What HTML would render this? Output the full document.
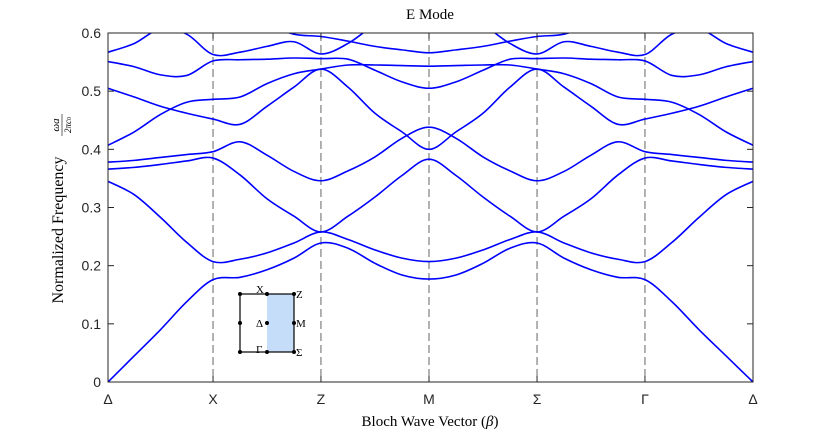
<!DOCTYPE html>
<html><head><meta charset="utf-8"><style>
html,body{margin:0;padding:0;background:#fff;}
svg{display:block;}
text{font-family:"Liberation Sans",sans-serif;}
.serif{font-family:"Liberation Serif",serif;}
</style></head><body>
<svg id="chart" width="832" height="433" viewBox="0 0 832 433">
<defs><clipPath id="plotclip"><rect x="108" y="33" width="645" height="349"/></clipPath></defs>
<rect x="0" y="0" width="832" height="433" fill="#fff"/>
<text class="serif" x="430" y="19" text-anchor="middle" font-size="15">E Mode</text>
<g id="grid"></g>
<g id="bands" clip-path="url(#plotclip)"></g>
<rect x="108" y="33" width="645" height="349" fill="none" stroke="#262626" stroke-width="1"/>
<g id="yaxis"></g>
<g id="xaxis"></g>
<text class="serif" x="430" y="426" text-anchor="middle" font-size="15">Bloch Wave Vector (<tspan font-style="italic">β</tspan>)</text>
<g transform="translate(63,208) rotate(-90)">
<text class="serif" x="-22" y="0" text-anchor="middle" font-size="16">Normalized Frequency</text>
<text class="serif" x="83" y="-4" text-anchor="middle" font-size="11" font-style="italic">ωa</text>
<line x1="72" x2="94" y1="-1" y2="-1" stroke="#000" stroke-width="0.6"/>
<text class="serif" x="83" y="8" text-anchor="middle" font-size="9" font-style="italic">2πc<tspan font-size="6" font-style="normal">0</tspan></text>
</g>
<g>
<rect x="267" y="294" width="27" height="58" fill="#c5ddf8"/>
<rect x="240" y="294" width="54" height="58" fill="none" stroke="#000" stroke-width="1.2"/>
<g fill="#000">
<circle cx="240" cy="294" r="2"/><circle cx="267" cy="294" r="2"/><circle cx="294" cy="294" r="2"/>
<circle cx="240" cy="323" r="2"/><circle cx="267" cy="323" r="2"/><circle cx="294" cy="323" r="2"/>
<circle cx="240" cy="352" r="2"/><circle cx="267" cy="352" r="2"/><circle cx="294" cy="352" r="2"/>
</g>
<g class="serif" font-size="11" fill="#000">
<text class="serif" x="256" y="293">X</text>
<text class="serif" x="296" y="298">Z</text>
<text class="serif" x="256" y="327">Δ</text>
<text class="serif" x="296" y="327">M</text>
<text class="serif" x="256" y="353">Γ</text>
<text class="serif" x="296" y="356">Σ</text>
</g>
</g>
</svg>
<script>
// half path Δ→X→Z→M sampled at quarter points of each segment (13 values), mirrored for M→Σ→Γ→Δ
const kLabels = ["Δ","X","Z","M","Σ","Γ","Δ"];
const kTicks = [0, 0.977, 1.981, 2.986, 3.991, 4.995, 6];
const yTicks = [0, 0.1, 0.2, 0.3, 0.4, 0.5, 0.6];
const band1 = [0, 0.045, 0.09, 0.138, 0.176, 0.180, 0.193, 0.213, 0.239, 0.230, 0.204, 0.184, 0.177];
const band2 = [0.345, 0.322, 0.283, 0.24, 0.207, 0.211, 0.222, 0.239, 0.258, 0.245, 0.227, 0.213, 0.207];
const band3 = [0.366, 0.369, 0.374, 0.380, 0.385, 0.356, 0.315, 0.285, 0.258, 0.285, 0.318, 0.355, 0.383];
const band4 = [0.378, 0.381, 0.386, 0.391, 0.396, 0.413, 0.39, 0.362, 0.346, 0.363, 0.387, 0.419, 0.438];
const band5 = [0.407, 0.43, 0.46, 0.481, 0.486, 0.49, 0.513, 0.53, 0.538, 0.545, 0.545, 0.544, 0.543];
const band6 = [0.505, 0.49, 0.474, 0.462, 0.452, 0.443, 0.474, 0.507, 0.538, 0.507, 0.462, 0.43, 0.40];
const band7 = [0.551, 0.542, 0.528, 0.527, 0.552, 0.554, 0.555, 0.557, 0.556, 0.555, 0.536, 0.516, 0.505];
const band8 = [0.567, 0.582, 0.607, 0.598, 0.563, 0.567, 0.577, 0.585, 0.564, 0.582, 0.615, 0.64, 0.65];
const band9 = [0.7, 0.7, 0.7, 0.7, 0.66, 0.64, 0.615, 0.598, 0.594, 0.586, 0.577, 0.571, 0.566];
const bands = [band1, band2, band3, band4, band5, band6, band7, band8, band9];

const NS = "http://www.w3.org/2000/svg";
const X0 = 108, X1 = 753, Y0 = 382, Y1 = 33;
function xs(k){ return X0 + (k - kTicks[0]) / (kTicks[kTicks.length-1] - kTicks[0]) * (X1 - X0); }
function ys(v){ return Y0 - (v - yTicks[0]) / (yTicks[yTicks.length-1] - yTicks[0]) * (Y0 - Y1); }
function kAt(i){ const seg = Math.floor(i/4), t = (i%4)/4; if (seg >= kTicks.length-1) return kTicks[kTicks.length-1]; return kTicks[seg] + t*(kTicks[seg+1]-kTicks[seg]); }

const grid = document.getElementById('grid');
for (let i = 1; i < kTicks.length-1; i++) {
  const l = document.createElementNS(NS,'line');
  
  
  l.setAttribute('x1', xs(kTicks[i])); l.setAttribute('x2', xs(kTicks[i]));
  l.setAttribute('y1', Y1); l.setAttribute('y2', Y0);
  l.setAttribute('stroke', '#555'); l.setAttribute('stroke-width', '0.9'); l.setAttribute('stroke-dasharray', '8,4');
  grid.appendChild(l);
}

const bg = document.getElementById('bands');
bands.forEach((half, bi) => {
  const full = half.concat(half.slice(0, -1).reverse());
  const pts = full.map((v, i) => [xs(kAt(i)), ys(v)]);
  let d = 'M' + pts[0][0].toFixed(2) + ',' + pts[0][1].toFixed(2);
  for (let i = 0; i < pts.length-1; i++) {
    const p0 = pts[Math.max(0,i-1)], p1 = pts[i], p2 = pts[i+1], p3 = pts[Math.min(pts.length-1,i+2)];
    const c1 = [p1[0] + (p2[0]-p0[0])/6, p1[1] + (p2[1]-p0[1])/6];
    const c2 = [p2[0] - (p3[0]-p1[0])/6, p2[1] - (p3[1]-p1[1])/6];
    d += 'C' + c1[0].toFixed(2)+','+c1[1].toFixed(2)+' '+c2[0].toFixed(2)+','+c2[1].toFixed(2)+' '+p2[0].toFixed(2)+','+p2[1].toFixed(2);
  }
  const p = document.createElementNS(NS,'path');
  
  
  p.setAttribute('d', d);
  p.setAttribute('fill', 'none'); p.setAttribute('stroke', '#0000ff'); p.setAttribute('stroke-width', '1.6');
  bg.appendChild(p);
});

const ya = document.getElementById('yaxis');
yTicks.forEach(v => {
  const y = ys(v);
  [[X0, X0+6],[X1, X1-6]].forEach(([a,b]) => {
    const t = document.createElementNS(NS,'line');
    
    
    t.setAttribute('x1', a); t.setAttribute('x2', b); t.setAttribute('y1', y); t.setAttribute('y2', y);
    t.setAttribute('stroke', '#262626');
    ya.appendChild(t);
  });
  const tx = document.createElementNS(NS,'text');
  
  
  tx.setAttribute('x', 101); tx.setAttribute('y', y + 5);
  tx.setAttribute('text-anchor', 'end'); tx.setAttribute('font-size', '14'); tx.setAttribute('fill', '#262626');
  tx.textContent = v === 0 ? '0' : v.toFixed(1);
  ya.appendChild(tx);
});

const xa = document.getElementById('xaxis');
kTicks.forEach((k, i) => {
  const x = xs(k);
  [[Y0, Y0-6],[Y1, Y1+6]].forEach(([a,b]) => {
    const t = document.createElementNS(NS,'line');
    
    
    t.setAttribute('x1', x); t.setAttribute('x2', x); t.setAttribute('y1', a); t.setAttribute('y2', b);
    t.setAttribute('stroke', '#262626');
    xa.appendChild(t);
  });
  const tx = document.createElementNS(NS,'text');
  
  
  tx.setAttribute('x', x); tx.setAttribute('y', 404);
  tx.setAttribute('text-anchor', 'middle'); tx.setAttribute('font-size', '14'); tx.setAttribute('fill', '#262626');
  tx.textContent = kLabels[i];
  xa.appendChild(tx);
});
</script>
</body></html>
